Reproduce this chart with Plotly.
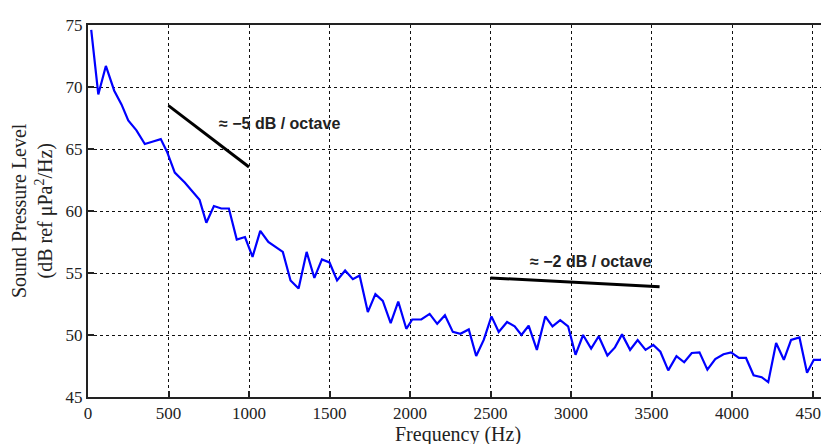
import plotly.graph_objects as go

freq_hz = [20, 64, 111, 163, 208, 250, 301, 353, 404, 452, 490, 539, 601, 652, 693, 735,
           782, 828, 875, 924, 975, 1022, 1070, 1120, 1210, 1258, 1308, 1358, 1406, 1453,
           1500, 1547, 1597, 1645, 1687, 1738, 1785, 1831, 1880, 1927, 1977, 2014, 2070,
           2122, 2169, 2217, 2266, 2313, 2365, 2411, 2458, 2506, 2551, 2603, 2650, 2692,
           2737, 2788, 2840, 2885, 2933, 2982, 3028, 3075, 3125, 3172, 3226, 3273, 3317,
           3367, 3414, 3463, 3511, 3555, 3604, 3655, 3703, 3750, 3798, 3847, 3896, 3947,
           3994, 4043, 4087, 4134, 4184, 4225, 4274, 4322, 4367, 4419, 4466, 4508, 4553, 4595]
spl_db = [74.6, 69.4, 71.7, 69.7, 68.6, 67.3, 66.5, 65.4, 65.6, 65.8, 64.8, 63.1, 62.3, 61.5,
          60.9, 59.05, 60.4, 60.2, 60.2, 57.7, 57.9, 56.3, 58.4, 57.5, 56.7, 54.4, 53.75, 56.7,
          54.6, 56.1, 55.85, 54.4, 55.2, 54.5, 54.8, 51.85, 53.3, 52.75, 50.95, 52.7, 50.5,
          51.25, 51.25, 51.7, 50.9, 51.6, 50.25, 50.1, 50.45, 48.3, 49.6, 51.5, 50.25, 51.05,
          50.7, 50.0, 50.75, 48.8, 51.5, 50.7, 51.2, 50.7, 48.4, 50.0, 48.9, 49.9, 48.35, 49.0,
          50.05, 48.8, 49.6, 48.8, 49.2, 48.65, 47.15, 48.3, 47.8, 48.55, 48.6, 47.2, 48.05,
          48.45, 48.6, 48.15, 48.15, 46.75, 46.6, 46.2, 49.35, 48.0, 49.6, 49.8, 46.95, 48.0,
          48.0, 48.8]

slope1_x = [500, 1000]
slope1_y = [68.5, 63.55]
slope2_x = [2500, 3550]
slope2_y = [54.6, 53.9]

x_ticks = [0, 500, 1000, 1500, 2000, 2500, 3000, 3500, 4000, 4500]
y_ticks = [45, 50, 55, 60, 65, 70, 75]

fig = go.Figure()
fig.add_trace(go.Scatter(x=freq_hz, y=spl_db, mode="lines",
                         line=dict(color="#0000ff", width=2.2), showlegend=False))
fig.add_trace(go.Scatter(x=slope1_x, y=slope1_y, mode="lines",
                         line=dict(color="#000000", width=3), showlegend=False))
fig.add_trace(go.Scatter(x=slope2_x, y=slope2_y, mode="lines",
                         line=dict(color="#000000", width=3), showlegend=False))

serif = "Liberation Serif, Times New Roman, serif"
sans = "Liberation Sans, Arial, sans-serif"
axis_common = dict(showgrid=True, gridcolor="#111", griddash="dot", gridwidth=1,
                   showline=True, linecolor="#222", linewidth=2, mirror=True,
                   ticks="inside", ticklen=6, tickwidth=2, tickcolor="#222",
                   zeroline=False, tickfont=dict(family=serif, size=17, color="#222"))

fig.update_layout(
    width=829, height=444,
    margin=dict(l=80, r=8, t=12, b=55),
    paper_bgcolor="white", plot_bgcolor="white",
    font=dict(family=serif, size=17, color="#222"),
    xaxis=dict(range=[0, 4590], tickvals=x_ticks, ticktext=[str(v) for v in x_ticks],
               **axis_common),
    yaxis=dict(range=[45, 75], tickvals=y_ticks, ticktext=[str(v) for v in y_ticks],
               **axis_common),
    annotations=[
        dict(text="Frequency (Hz)", xref="paper", yref="paper", x=0.5, y=0,
             xanchor="center", yanchor="middle", yshift=-37, showarrow=False,
             font=dict(family=serif, size=20, color="#222")),
        dict(text="Sound Pressure Level<br>(dB ref μPa<sup>2</sup>/Hz)", xref="paper", yref="paper",
             x=0, y=0.5, xanchor="center", yanchor="middle", xshift=-56, textangle=-90,
             showarrow=False, font=dict(family=serif, size=20, color="#222")),
        dict(text="<b>≈ −5 dB / octave</b>", x=1189, y=67.05, xref="x", yref="y", showarrow=False,
             font=dict(family=sans, size=16, color="#222")),
        dict(text="<b>≈ −2 dB / octave</b>", x=3121, y=55.95, xref="x", yref="y", showarrow=False,
             font=dict(family=sans, size=16, color="#222")),
    ],
)

fig.write_html("out.html")
